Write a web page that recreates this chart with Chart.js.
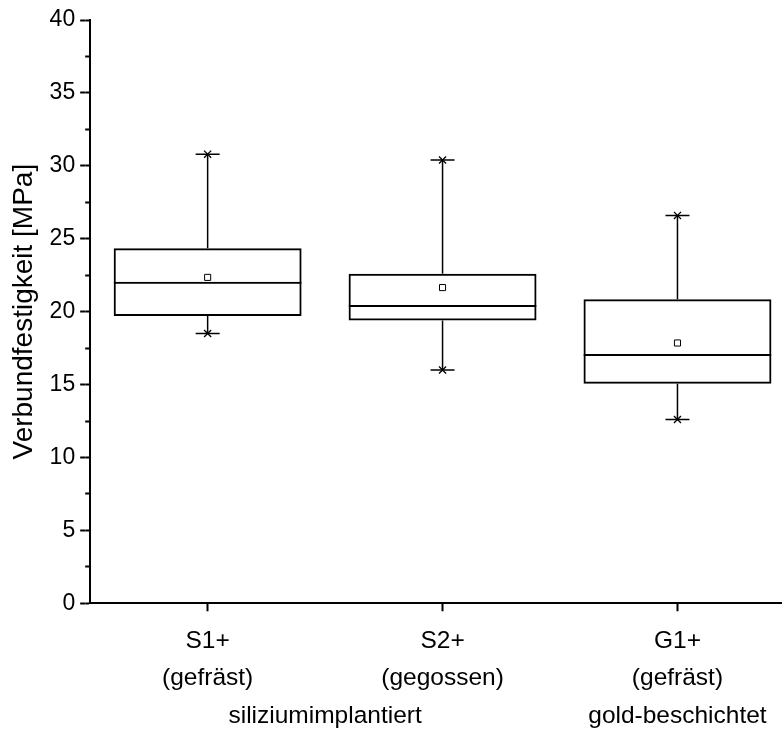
<!DOCTYPE html>
<html>
<head>
<meta charset="utf-8">
<script src="https://cdn.jsdelivr.net/npm/chart.js@4/dist/chart.umd.min.js"></script>
<style>
  html, body { margin: 0; padding: 0; background: #fff; }
  #wrap { width: 782px; height: 731px; }
</style>
</head>
<body>
<div id="wrap"><canvas id="chartBox"></canvas></div>
<script>
/* ---------- Daten ---------- */
const categories   = ["S1+", "S2+", "G1+"];
const subLabels    = ["(gefräst)", "(gegossen)", "(gefräst)"];
const groupLabels  = ["siliziumimplantiert", "gold-beschichtet"];
const groupPos     = [1.0, 2.5];          // Lage der Gruppenbeschriftung (Kategorie-Einheiten)
const boxPos       = [0.5, 1.5, 2.5];     // Lage der Boxen

const whiskerMax   = [30.8, 30.4, 26.6];
const q3           = [24.35, 22.6, 20.85];
const median       = [22.05, 20.45, 17.1];
const q1           = [19.7, 19.4, 15.05];
const whiskerMin   = [18.5, 16.0, 12.6];
const means        = [22.35, 21.65, 17.85];

const yMin = 0, yMax = 40, yStep = 5, yMinorStep = 2.5;
const xMin = 0, xMax = 2.945;

/* ---------- Aufbereitung ---------- */
const FONT = "'Liberation Sans', Arial, sans-serif";
Chart.defaults.font.family = FONT;
Chart.defaults.color = "#000";

// ganze Box q1..q3
const boxes = boxPos.map((x, i) => ({ x: x, y: [q1[i], q3[i]] }));
// q1..Median, nur Oberkante gezeichnet = Medianlinie
const medianBars = boxPos.map((x, i) => ({ x: x, y: [q1[i], median[i]] }));

const whiskerPts = [];
boxPos.forEach((x, i) => {
    whiskerPts.push({ x: x, y: q3[i] }, { x: x, y: whiskerMax[i] }, { x: x, y: null });
    whiskerPts.push({ x: x, y: whiskerMin[i] }, { x: x, y: q1[i] }, { x: x, y: null });
});

const endPts = [];
boxPos.forEach((x, i) => {
    endPts.push({ x: x, y: whiskerMax[i] }, { x: x, y: whiskerMin[i] });
});

const meanPts = boxPos.map((x, i) => ({ x: x, y: means[i] }));

// Beschriftungs-Ticks: Boxen + Gruppen (3 Zeilen je Tick)
const labelTickPos = Array.from(new Set(boxPos.concat(groupPos))).sort((a, b) => a - b);
function labelLines(v) {
    const b = boxPos.indexOf(v), g = groupPos.indexOf(v);
    return [b >= 0 ? categories[b] : "", b >= 0 ? subLabels[b] : "", g >= 0 ? groupLabels[g] : ""];
}

const barBase = {
    type: "bar",
    borderColor: "#000",
    backgroundColor: "rgba(255,255,255,0)",
    borderSkipped: false,
    grouped: false,
    barPercentage: 0.8,
    categoryPercentage: 1.0
};

new Chart(document.getElementById("chartBox"), {
    type: "bar",
    data: {
        datasets: [
            Object.assign({ label: "Box", data: boxes, borderWidth: 2 }, barBase),
            Object.assign({
                label: "Median", data: medianBars,
                borderWidth: { top: 2, bottom: 0, left: 0, right: 0 }
            }, barBase),
            {
                type: "line", label: "Whisker", data: whiskerPts,
                borderColor: "#000", borderWidth: 1.5, pointRadius: 0, spanGaps: false
            },
            {
                type: "line", label: "Kappe", data: endPts, showLine: false,
                pointStyle: "line", pointRadius: 12, borderColor: "#000", borderWidth: 1.5
            },
            {
                type: "line", label: "Stern", data: endPts, showLine: false,
                pointStyle: "crossRot", pointRadius: 5, borderColor: "#000", borderWidth: 1.3
            },
            {
                type: "line", label: "Mittelwert", data: meanPts, showLine: false,
                pointStyle: "rect", pointRadius: 4.3, borderColor: "#000", borderWidth: 1,
                backgroundColor: "#fff"
            }
        ]
    },
    options: {
        responsive: true,
        maintainAspectRatio: false,
        animation: false,
        layout: { autoPadding: false, padding: { left: 3, top: 20, right: 0, bottom: -15 } },
        plugins: { legend: { display: false }, tooltip: { enabled: false } },
        scales: {
            // Daten-Achse (unsichtbar), Ticks nur an den Boxen -> Boxbreite 80 %
            x: {
                type: "linear", min: xMin, max: xMax, offset: false, display: false,
                afterBuildTicks: s => { s.ticks = boxPos.map(v => ({ value: v })); }
            },
            // sichtbare Achse mit Beschriftung
            xl: {
                type: "linear", position: "bottom", min: xMin, max: xMax, offset: false,
                afterBuildTicks: s => { s.ticks = labelTickPos.map(v => ({ value: v })); },
                ticks: {
                    autoSkip: false, maxRotation: 0, padding: 11.5,
                    font: { size: 24.5, lineHeight: 1.52 },
                    callback: v => labelLines(v)
                },
                grid: {
                    offset: false, drawOnChartArea: false, tickLength: 8, tickWidth: 2,
                    tickColor: c => (c.tick && boxPos.includes(c.tick.value)) ? "#000" : "rgba(0,0,0,0)"
                },
                border: { color: "#000", width: 2 }
            },
            y: {
                position: "left", min: yMin, max: yMax, weight: 1,
                ticks: { stepSize: yStep, padding: 5, font: { size: 23 } },
                grid: { drawOnChartArea: false, tickLength: 5, tickWidth: 2, tickColor: "#000" },
                border: { display: false },
                title: { display: true, text: "Verbundfestigkeit [MPa]", font: { size: 28 }, padding: 4 }
            },
            y2: {
                position: "left", min: yMin, max: yMax, weight: 0,
                ticks: { display: false, stepSize: yMinorStep },
                grid: { drawOnChartArea: false, tickLength: 5, tickWidth: 2, tickColor: "#000" },
                border: { color: "#000", width: 2 }
            }
        }
    }
});
</script>
</body>
</html>
